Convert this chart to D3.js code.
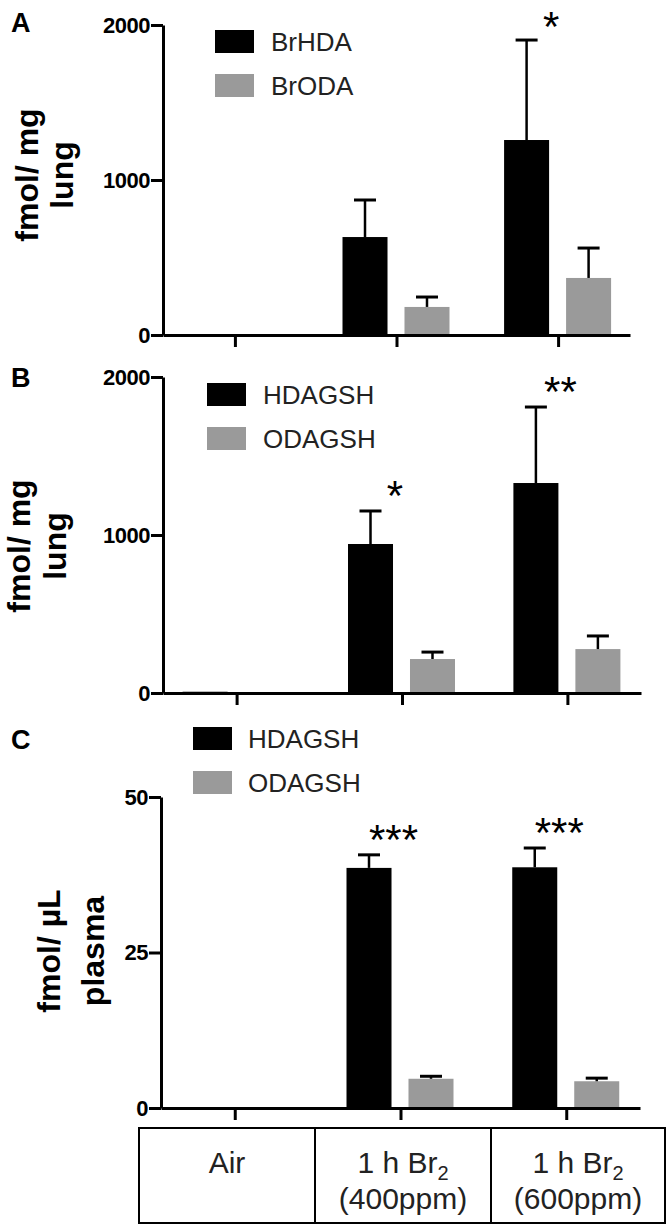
<!DOCTYPE html>
<html>
<head>
<meta charset="utf-8">
<script src="https://cdn.jsdelivr.net/npm/d3@7"></script>
<style>
  html, body { margin: 0; padding: 0; background: #fff; }
  svg { display: block; font-family: "Liberation Sans", Arial, sans-serif; }
</style>
</head>
<body>
<svg id="chart" width="667" height="1229"></svg>
<script>
// ---------------- DATA ----------------
const categories = ["Air", "1 h Br2 (400ppm)", "1 h Br2 (600ppm)"];

// Panel A (fmol / mg lung)
const seriesA = ["BrHDA", "BrODA"];
const brHDA = [0, 632, 1258];
const brHDA_sem = [0, 239, 645];
const brODA = [0, 181, 368];
const brODA_sem = [0, 64, 193];
const starsA = ["", "", "*"];
const ticksA = [0, 1000, 2000];

// Panel B (fmol / mg lung)
const seriesB = ["HDAGSH", "ODAGSH"];
const hdagshLung = [8, 943, 1329];
const hdagshLung_sem = [0, 209, 481];
const odagshLung = [0, 215, 278];
const odagshLung_sem = [0, 44, 83];
const starsB = ["", "*", "**"];
const ticksB = [0, 1000, 2000];

// Panel C (fmol / µL plasma)
const seriesC = ["HDAGSH", "ODAGSH"];
const hdagshPlasma = [0, 38.6, 38.7];
const hdagshPlasma_sem = [0, 2.1, 3.1];
const odagshPlasma = [0, 4.7, 4.3];
const odagshPlasma_sem = [0, 0.4, 0.5];
const starsC = ["", "***", "***"];
const ticksC = [0, 25, 50];

const tableLine1 = ["Air", "1 h Br", "1 h Br"];
const tableSub = ["", "2", "2"];
const tableLine2 = ["", "(400ppm)", "(600ppm)"];

// ---------------- STYLE / LAYOUT ----------------
const colors = ["#000000", "#9a9a9a"];
const svg = d3.select("#chart");
const FONT = '"Liberation Sans", Arial, sans-serif';

const panels = [
  { letter: "A", letterY: 32, top: 25, bottom: 335, left: 163, right: 630, max: 2000, ticks: ticksA,
    series: seriesA, values: [brHDA, brODA], sems: [brHDA_sem, brODA_sem], stars: starsA,
    ylab: ["fmol/ mg", "lung"], ylabX: [27, 62], ylabY: 175,
    legX: 215, legY: [30, 74], legTextX: 271 },
  { letter: "B", letterY: 387, top: 377, bottom: 693, left: 163, right: 641, max: 2000, ticks: ticksB,
    series: seriesB, values: [hdagshLung, odagshLung], sems: [hdagshLung_sem, odagshLung_sem], stars: starsB,
    ylab: ["fmol/ mg", "lung"], ylabX: [19, 55], ylabY: 546,
    legX: 207, legY: [383, 427], legTextX: 263 },
  { letter: "C", letterY: 749, top: 797, bottom: 1108, left: 161, right: 640, max: 50, ticks: ticksC,
    series: seriesC, values: [hdagshPlasma, odagshPlasma], sems: [hdagshPlasma_sem, odagshPlasma_sem], stars: starsC,
    ylab: ["fmol/ µL", "plasma"], ylabX: [49, 93], ylabY: 951,
    legX: 193, legY: [727, 771], legTextX: 248 }
];

panels.forEach(p => {
  const g = svg.append("g");
  const x0 = d3.scalePoint().domain(categories).range([p.left, p.right]).padding(0.445);
  const x1 = d3.scaleBand().domain(p.series).range([-54, 53]).paddingInner(0.274);
  const y = d3.scaleLinear().domain([0, p.max]).range([p.bottom, p.top]);

  // Bars
  p.series.forEach((s, si) => {
    g.selectAll(null).data(categories).enter().append("rect")
      .attr("x", c => x0(c) + x1(s))
      .attr("width", x1.bandwidth())
      .attr("y", (c, i) => y(p.values[si][i]))
      .attr("height", (c, i) => y(0) - y(p.values[si][i]))
      .attr("fill", colors[si]);
    // error bars
    categories.forEach((c, i) => {
      const sem = p.sems[si][i];
      if (!sem) return;
      const cx = x0(c) + x1(s) + x1.bandwidth() / 2;
      const yt = y(p.values[si][i] + sem);
      g.append("line").attr("x1", cx).attr("x2", cx)
        .attr("y1", y(p.values[si][i])).attr("y2", yt)
        .attr("stroke", "#000").attr("stroke-width", 2.5);
      g.append("line").attr("x1", cx - 11).attr("x2", cx + 11)
        .attr("y1", yt).attr("y2", yt)
        .attr("stroke", "#000").attr("stroke-width", 3);
    });
  });

  // Stars
  categories.forEach((c, i) => {
    if (!p.stars[i]) return;
    const topVal = p.values[0][i] + p.sems[0][i];
    const fs = 42;
    const cy = Math.max(y(topVal) - 25, 17);
    g.append("text")
      .attr("x", x0(c) - 7)
      .attr("y", cy + 0.57 * fs)
      .attr("text-anchor", "middle")
      .attr("font-size", fs)
      .attr("font-family", FONT)
      .text(p.stars[i]);
  });

  // Axes
  const yAxis = d3.axisLeft(y).tickValues(p.ticks).tickFormat(d3.format("d"))
    .tickSize(12).tickSizeOuter(0).tickPadding(1);
  const ya = g.append("g").attr("transform", `translate(${p.left},0)`).call(yAxis);
  const xAxis = d3.axisBottom(x0).tickSize(12).tickSizeOuter(0).tickFormat("");
  const xa = g.append("g").attr("transform", `translate(0,${p.bottom})`).call(xAxis);
  [ya, xa].forEach(a => {
    a.selectAll("path, line").attr("stroke", "#000").attr("stroke-width", 3);
  });
  ya.selectAll("text").attr("font-size", 22).attr("font-weight", "bold")
    .attr("font-family", FONT).attr("fill", "#000").attr("letter-spacing", -0.5);

  // Y label
  p.ylab.forEach((t, li) => {
    g.append("text")
      .attr("transform", `translate(${p.ylabX[li]},${p.ylabY}) rotate(-90)`)
      .attr("text-anchor", "middle")
      .attr("dominant-baseline", "central")
      .attr("font-size", 32).attr("font-weight", "bold").attr("font-family", FONT)
      .text(t);
  });

  // Panel letter
  g.append("text").attr("x", 11).attr("y", p.letterY)
    .attr("font-size", 27).attr("font-weight", "bold").attr("font-family", FONT)
    .text(p.letter);

  // Legend
  p.series.forEach((s, si) => {
    g.append("rect").attr("x", p.legX).attr("y", p.legY[si])
      .attr("width", 39).attr("height", 23).attr("fill", colors[si]);
    g.append("text").attr("x", p.legTextX).attr("y", p.legY[si] + 21)
      .attr("font-size", 26).attr("font-family", FONT).attr("fill", "#222")
      .text(s);
  });
});

// Table of conditions
const cellEdges = [139, 315, 491, 665];
const tTop = 1128, tBot = 1223;
const tg = svg.append("g");
tg.append("rect").attr("x", cellEdges[0]).attr("y", tTop)
  .attr("width", cellEdges[3] - cellEdges[0]).attr("height", tBot - tTop)
  .attr("fill", "none").attr("stroke", "#000").attr("stroke-width", 2);
[1, 2].forEach(k => {
  tg.append("line").attr("x1", cellEdges[k]).attr("x2", cellEdges[k])
    .attr("y1", tTop).attr("y2", tBot).attr("stroke", "#000").attr("stroke-width", 2);
});
categories.forEach((c, i) => {
  const cx = (cellEdges[i] + cellEdges[i + 1]) / 2;
  const t = tg.append("text").attr("x", cx).attr("y", 1173)
    .attr("text-anchor", "middle").attr("font-size", 30).attr("font-family", FONT).attr("fill", "#222");
  t.append("tspan").text(tableLine1[i]);
  if (tableSub[i]) t.append("tspan").attr("font-size", 20).attr("dy", 7).text(tableSub[i]);
  if (tableLine2[i]) {
    tg.append("text").attr("x", cx).attr("y", 1209)
      .attr("text-anchor", "middle").attr("font-size", 30).attr("font-family", FONT).attr("fill", "#222")
      .text(tableLine2[i]);
  }
});
</script>
</body>
</html>
